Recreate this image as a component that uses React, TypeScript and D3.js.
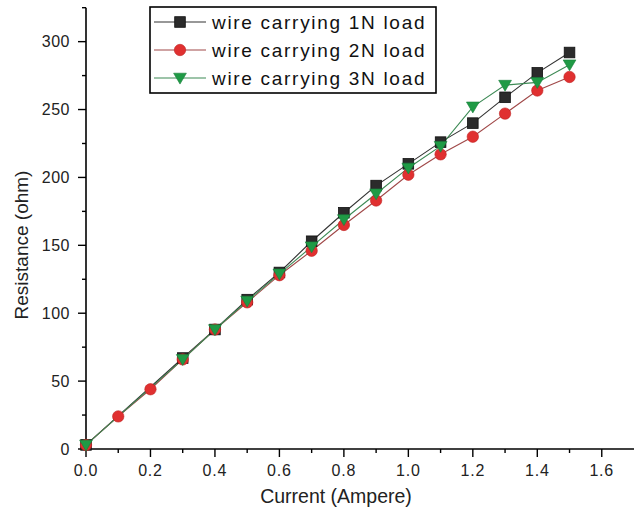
import React from "react";
import * as d3 from "d3";

const xTicks = [0, 0.2, 0.4, 0.6, 0.8, 1.0, 1.2, 1.4, 1.6];
const yTicks = [0, 50, 100, 150, 200, 250, 300];

const x1N = [0, 0.3, 0.4, 0.5, 0.6, 0.7, 0.8, 0.9, 1.0, 1.1, 1.2, 1.3, 1.4, 1.5];
const y1N = [3, 67, 88, 110, 130, 153, 174, 194, 210, 226, 240, 259, 277, 292];

const x2N = [0, 0.1, 0.2, 0.3, 0.4, 0.5, 0.6, 0.7, 0.8, 0.9, 1.0, 1.1, 1.2, 1.3, 1.4, 1.5];
const y2N = [3, 24, 44, 66, 88, 108, 128, 146, 165, 183, 202, 217, 230, 247, 264, 274];

const x3N = [0, 0.3, 0.4, 0.5, 0.6, 0.7, 0.8, 0.9, 1.0, 1.1, 1.2, 1.3, 1.4, 1.5];
const y3N = [3, 66, 88, 109, 129, 149, 169, 188, 207, 223, 252, 268, 270, 283];

const seriesNames = ["wire carrying 1N load", "wire carrying 2N load", "wire carrying 3N load"];
const seriesColors = ["#2b2b2b", "#e03030", "#1f9a45"];
const lineColors = ["#333333", "#a04848", "#3d8a55"];

const W = 641;
const H = 518;
const FONT = "'Liberation Sans', Arial, sans-serif";

export default function App() {
  const x = d3.scaleLinear().domain([0, 1.7]).range([86, 634]);
  const y = d3.scaleLinear().domain([0, 325]).range([449, 7.7]);
  const line = d3
    .line<[number, number]>()
    .x((d) => x(d[0]))
    .y((d) => y(d[1]));

  const series = [
    { xs: x1N, ys: y1N, shape: "square" },
    { xs: x2N, ys: y2N, shape: "circle" },
    { xs: x3N, ys: y3N, shape: "triangle" },
  ];

  const xMinor = d3.range(0, 17).map((i) => i / 10);
  const yMinor = d3.range(0, 14).map((i) => i * 25);

  const marker = (shape: string, cx: number, cy: number, i: number, key: string) => {
    const c = seriesColors[i];
    if (shape === "square")
      return <rect key={key} x={cx - 5.3} y={cy - 5.3} width={10.6} height={10.6} fill={c} stroke="#111" strokeWidth={0.8} />;
    if (shape === "circle") return <circle key={key} cx={cx} cy={cy} r={5.7} fill={c} stroke="#c02020" strokeWidth={0.6} />;
    const s = 6.4;
    return (
      <path
        key={key}
        d={`M${cx - s},${cy - s * 0.75}L${cx + s},${cy - s * 0.75}L${cx},${cy + s * 0.95}Z`}
        fill={c}
        stroke="#17803a"
        strokeWidth={0.6}
      />
    );
  };

  return (
    <svg width={W} height={H} style={{ position: "absolute", left: 0, top: 0, background: "#fff" }} fontFamily={FONT}>
      <rect x={0} y={0} width={W} height={H} fill="#fff" />
      {/* axes */}
      <line x1={86} y1={y(325)} x2={86} y2={449} stroke="#000" strokeWidth={1.6} />
      <line x1={86} y1={449} x2={x(1.7)} y2={449} stroke="#000" strokeWidth={1.6} />
      {xMinor.map((v) => (
        <line key={"xm" + v} x1={x(v)} x2={x(v)} y1={449} y2={Math.round(v * 10) % 2 === 0 ? 457 : 453} stroke="#000" strokeWidth={1.4} />
      ))}
      {yMinor.map((v) => (
        <line key={"ym" + v} x1={86} x2={v % 50 === 0 ? 78 : 82} y1={y(v)} y2={y(v)} stroke="#000" strokeWidth={1.4} />
      ))}
      {xTicks.map((v) => (
        <text key={"xt" + v} x={x(v)} y={476} textAnchor="middle" fontSize={16} letterSpacing={0.8} fill="#222">
          {v.toFixed(1)}
        </text>
      ))}
      {yTicks.map((v) => (
        <text key={"yt" + v} x={70} y={y(v) + 5.5} textAnchor="end" fontSize={16} letterSpacing={0.5} fill="#222">
          {v}
        </text>
      ))}
      <text x={336} y={503} textAnchor="middle" fontSize={19.5} fill="#222">
        Current (Ampere)
      </text>
      <text transform={`translate(28,245) rotate(-90)`} textAnchor="middle" fontSize={19} fill="#222">
        Resistance (ohm)
      </text>
      {/* series */}
      {series.map((s, i) => (
        <path
          key={"l" + i}
          d={line(s.xs.map((v, j) => [v, s.ys[j]] as [number, number])) || ""}
          fill="none"
          stroke={lineColors[i]}
          strokeWidth={1.1}
        />
      ))}
      {series.map((s, i) => (
        <g key={"m" + i}>{s.xs.map((v, j) => marker(s.shape, x(v), y(s.ys[j]), i, `${i}-${j}`))}</g>
      ))}
      {/* legend */}
      <rect x={150} y={7} width={286} height={86} fill="#fff" stroke="#000" strokeWidth={1.6} />
      {seriesNames.map((n, i) => {
        const cy = 22 + i * 28;
        return (
          <g key={"lg" + i}>
            <line x1={154} x2={206} y1={cy} y2={cy} stroke={lineColors[i]} strokeWidth={1.2} />
            {marker(series[i].shape, 180, cy, i, "lgm" + i)}
            <text x={212} y={cy + 7} fontSize={19} letterSpacing={1.7} fill="#111">
              {n}
            </text>
          </g>
        );
      })}
    </svg>
  );
}
